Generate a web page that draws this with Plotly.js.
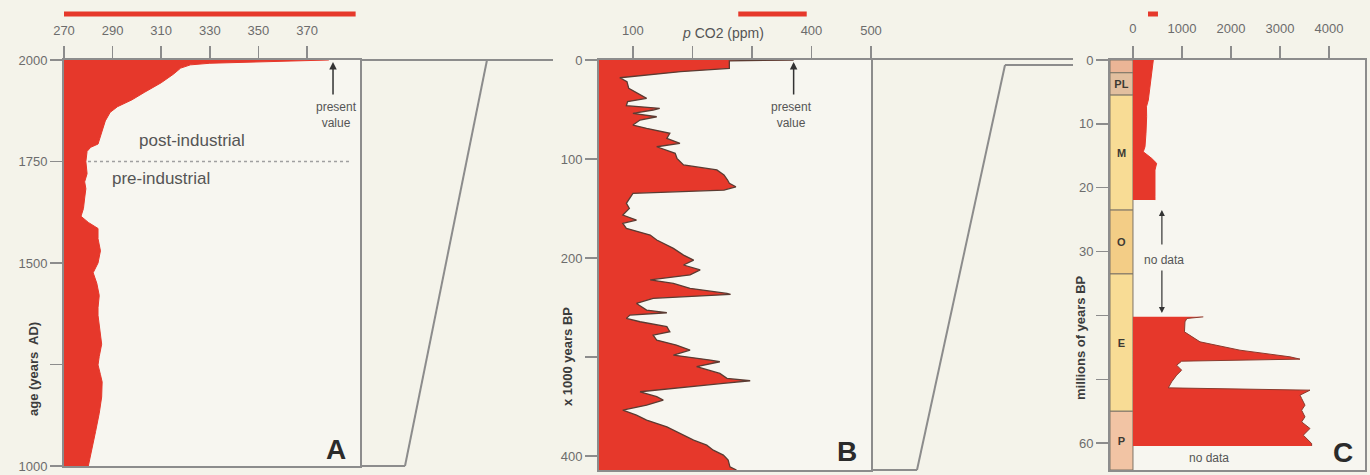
<!DOCTYPE html>
<html><head><meta charset="utf-8">
<script src="https://cdn.plot.ly/plotly-3.0.1.min.js"></script>
<style>html,body{margin:0;padding:0;background:#f4f3ea;} #chart{width:1370px;height:475px;}</style>
</head><body><div id="chart"></div>
<script>
// ---------- Panel A: last 1000 years ----------
const yearsA = [2000,1996,1992,1988,1980,1965,1944,1920,1902,1885,1871,1850,1829,1810,1793,1785,1775,1750,1720,1700,1683,1660,1634,1615,1600,1585,1560,1530,1500,1476,1450,1420,1390,1371,1330,1300,1270,1249,1225,1207,1170,1130,1085,1040,1000];
const co2A   = [379,350,330,322,318,315,310,303,298,292,289,287,286,285,284,281,279.5,279,279.5,278.5,279,278.5,278,277,280,284,284,285,284,282,283.5,284.5,284,284,285,285.5,284.5,284,285,285.7,285.5,284.5,283,281.5,280];

// ---------- Panel B: Vostok, x1000 years BP ----------
const kyrB = [0,0.8,8.4,11.8,17.9,21.9,28.6,35.4,38.7,42.1,46.2,48.8,50.5,53.8,57.3,60.6,65.7,69,74,79.1,84.1,87.6,90.9,94.2,99.3,106,111,116.1,121.2,124.5,128,131.3,134.6,139.7,144.7,149.8,156.6,161.6,164.9,170,176.8,181.8,186.9,190.2,197,202,207,212,217,222,225.6,230.6,235.7,236.7,240.7,245.8,252.5,255.2,257.6,260.9,264.3,269.3,274.4,277.8,282.8,287.9,292.9,298,303,304.7,309.7,316.5,321.5,323.9,326.5,329.9,335,340,343.4,348.5,353.5,358.6,363.6,370.4,377.1,383.9,388.9,394,399,404,410.8,414];
const co2B = [370,262,262,180,78,90,93,112,123,91,89,145,134,100,140,112,100,123,162,157,179,140,157,171,174,185,241,253,259,262,273,253,100,94,89,94,83,106,83,89,129,140,157,168,185,202,185,213,196,129,168,196,258,264,134,106,123,157,95,89,112,157,162,134,140,173,196,168,230,246,207,246,258,297,252,196,112,140,151,123,83,106,123,157,179,202,224,235,252,260,263,274];

// ---------- Panel C: millions of years BP ----------
const myrC1 = [0,1.05,3.65,6.27,7.32,8.88,11.48,13.58,14.37,15.4,16.18,17.23,21.42,21.93];
const co2C1 = [415,400,360,313,275,279,265,245,210,381,483,449,449,449];
const myrC2 = [40.22,40.47,41.0,42.57,44.13,45.44,46.48,46.84,47.16,47.78,48.57,49.35,50.4,51.34,51.7,52.48,53.0,54.05,54.84,55.88,56.67,57.7,58.75,60.05,60.43];
const co2C2 = [1435,1100,1061,1051,1367,2184,3204,3408,993,891,993,891,789,721,3612,3408,3442,3510,3442,3510,3442,3612,3476,3646,3646];

const epochNames = ['', 'PL', 'M', 'O', 'E', 'P'];
const epochTop   = [0, 2, 5.5, 23.5, 33.5, 55];
const epochBase  = [2, 5.5, 23.5, 33.5, 55, 64.2];
const epochColors = ['#ebb596', '#e2bf9f', '#f8dc95', '#f3cd86', '#f8dc95', '#f2c4a4'];

const presentA = 380.7, presentB = 370;
const rangeBarA = [270, 390], rangeBarB = [277, 392], rangeBarC = [306, 510];

// ---------- helpers ----------
const W = 1370, H = 475;
const px = x => x / W;
const py = y => 1 - y / H;
const RED = '#e6382b';
const AX = '#8c8c8c';
const FONT = 'Liberation Sans, Arial, sans-serif';

const traces = [
  {x: co2A, y: yearsA, xaxis: 'x', yaxis: 'y', type: 'scatter', mode: 'lines',
   fill: 'tozerox', fillcolor: RED, line: {color: RED, width: 1}, hoverinfo: 'skip'},
  {x: co2B, y: kyrB, xaxis: 'x2', yaxis: 'y2', type: 'scatter', mode: 'lines',
   fill: 'tozerox', fillcolor: RED, line: {color: '#5b3b32', width: 1.3}, hoverinfo: 'skip'},
  {type: 'bar', orientation: 'h', xaxis: 'x3', yaxis: 'y3',
   y: epochTop.map((t, i) => (t + epochBase[i]) / 2),
   width: epochTop.map((t, i) => epochBase[i] - t),
   x: epochTop.map(() => 469), base: -469,
   marker: {color: epochColors, line: {color: '#7d7466', width: 1}},
   text: epochNames, textposition: 'inside', insidetextanchor: 'middle', constraintext: 'none',
   textfont: {family: FONT, size: 11, color: '#3d3a33', weight: 'bold'}, textangle: 0, hoverinfo: 'skip'},
  {x: co2C1, y: myrC1, xaxis: 'x3', yaxis: 'y3', type: 'scatter', mode: 'lines',
   fill: 'tozerox', fillcolor: RED, line: {color: RED, width: 1}, hoverinfo: 'skip'},
  {x: co2C2, y: myrC2, xaxis: 'x3', yaxis: 'y3', type: 'scatter', mode: 'lines',
   fill: 'tozerox', fillcolor: RED, line: {color: '#8a3b2e', width: 1}, hoverinfo: 'skip'}
];

const tickFont = {family: FONT, size: 13, color: '#6c6c6c'};
const axCommon = {showline: true, mirror: true, linecolor: AX, linewidth: 2, showgrid: false, zeroline: false,
  ticks: 'outside', ticklen: 12, tickcolor: AX, tickwidth: 1.5, tickfont: tickFont, fixedrange: true,
  ticklabeloverflow: 'allow'};
const yDom = [py(470), py(60)];
const yDomA = [py(466), py(60)];

function note(x, y, text, font, extra) {
  return Object.assign({xref: 'paper', yref: 'paper', x: px(x), y: py(y), text: text, showarrow: false,
    xanchor: 'center', yanchor: 'middle', font: Object.assign({family: FONT}, font)}, extra || {});
}

const layout = {
  width: W, height: H, margin: {l: 0, r: 0, t: 0, b: 0},
  paper_bgcolor: '#f4f3ea', plot_bgcolor: '#f7f6f0', showlegend: false,
  font: {family: FONT},
  xaxis: Object.assign({}, axCommon, {domain: [px(64), px(360)], range: [270, 391.8], side: 'top', anchor: 'y',
    tickvals: [270, 290, 310, 330, 350, 370], ticklabelstandoff: 6}),
  yaxis: Object.assign({}, axCommon, {domain: yDomA, range: [1000, 2000], anchor: 'x',
    tickvals: [1000, 1250, 1500, 1750, 2000], ticktext: ['1000', '', '1500', '1750', '2000']}),
  xaxis2: Object.assign({}, axCommon, {domain: [px(599), px(871)], range: [43, 500], side: 'top', anchor: 'y2',
    tickvals: [100, 200, 300, 400, 500], ticktext: ['100', '', '', '400', '500'], ticklabelstandoff: 6}),
  yaxis2: Object.assign({}, axCommon, {domain: yDom, range: [414, 0], anchor: 'x2',
    tickvals: [0, 100, 200, 300, 400], ticktext: ['0', '100', '200', '', '400']}),
  xaxis3: Object.assign({}, axCommon, {domain: [px(1110), px(1365)], range: [-469, 4735], side: 'top', anchor: 'y3',
    tickvals: [0, 1000, 2000, 3000, 4000], ticklabelstandoff: 8}),
  yaxis3: Object.assign({}, axCommon, {domain: yDom, range: [64.2, 0], anchor: 'x3',
    tickvals: [0, 10, 20, 30, 40, 50, 60], ticktext: ['0', '10', '20', '30', '', '', '60']}),
  barmode: 'overlay',
  shapes: [
    {type: 'line', xref: 'x', yref: 'paper', x0: rangeBarA[0], x1: rangeBarA[1], y0: py(14), y1: py(14), line: {color: RED, width: 5}},
    {type: 'line', xref: 'x2', yref: 'paper', x0: rangeBarB[0], x1: rangeBarB[1], y0: py(14), y1: py(14), line: {color: RED, width: 5}},
    {type: 'line', xref: 'x3', yref: 'paper', x0: rangeBarC[0], x1: rangeBarC[1], y0: py(14), y1: py(14), line: {color: RED, width: 5}},
    {type: 'line', xref: 'x', yref: 'y', x0: 270, x1: 388, y0: 1750, y1: 1750, layer: 'below', line: {color: '#a0a0a0', width: 1.5, dash: 'dot'}},
    {type: 'line', xref: 'paper', yref: 'paper', x0: px(360), x1: px(553), y0: py(60), y1: py(60), line: {color: AX, width: 2}},
    {type: 'line', xref: 'paper', yref: 'paper', x0: px(487), x1: px(405), y0: py(60), y1: py(466), line: {color: AX, width: 2}},
    {type: 'line', xref: 'paper', yref: 'paper', x0: px(360), x1: px(405), y0: py(466), y1: py(466), line: {color: AX, width: 2}},
    {type: 'line', xref: 'paper', yref: 'paper', x0: px(871), x1: px(1073), y0: py(59), y1: py(59), line: {color: AX, width: 2}},
    {type: 'line', xref: 'paper', yref: 'paper', x0: px(1005), x1: px(1073), y0: py(65), y1: py(65), line: {color: AX, width: 2}},
    {type: 'line', xref: 'paper', yref: 'paper', x0: px(1005), x1: px(917), y0: py(65), y1: py(470), line: {color: AX, width: 2}},
    {type: 'line', xref: 'paper', yref: 'paper', x0: px(871), x1: px(917), y0: py(470), y1: py(470), line: {color: AX, width: 2}}
  ],
  annotations: [
    note(33, 369, 'age (years  AD)', {size: 13, color: '#3c3c3c', weight: 'bold'}, {textangle: -90}),
    note(567, 357, 'x 1000 years BP', {size: 13, color: '#3c3c3c', weight: 'bold'}, {textangle: -90}),
    note(1080, 338, 'millions of years BP', {size: 13, color: '#3c3c3c', weight: 'bold'}, {textangle: -90}),
    note(192, 140, 'post-industrial', {size: 17, color: '#555'}),
    note(161, 178, 'pre-industrial', {size: 17, color: '#555'}),
    note(336, 115, 'present<br>value', {size: 12, color: '#555'}),
    note(791, 115, 'present<br>value', {size: 12, color: '#555'}),
    note(723, 33, '<i>p</i> CO2 (ppm)', {size: 14, color: '#555'}),
    note(336, 449, '<b>A</b>', {size: 28, color: '#2b2b2b'}),
    note(847, 451, '<b>B</b>', {size: 28, color: '#2b2b2b'}),
    note(1343, 452, '<b>C</b>', {size: 28, color: '#2b2b2b'}),
    note(1164, 260, 'no data', {size: 12, color: '#555'}),
    note(1209, 458, 'no data', {size: 12, color: '#555'}),
    {xref: 'x', yref: 'paper', x: presentA, y: py(62), ax: 0, ay: 34, text: '', showarrow: true,
     arrowhead: 2, arrowsize: 1, arrowwidth: 1.5, arrowcolor: '#333'},
    {xref: 'x2', yref: 'paper', x: presentB, y: py(62), ax: 0, ay: 34, text: '', showarrow: true,
     arrowhead: 2, arrowsize: 1, arrowwidth: 1.5, arrowcolor: '#333'},
    {xref: 'x3', yref: 'y3', x: 590, y: 23.5, ax: 0, ay: 36, text: '', showarrow: true,
     arrowhead: 2, arrowsize: 1, arrowwidth: 1.2, arrowcolor: '#333'},
    {xref: 'x3', yref: 'y3', x: 590, y: 39.6, ax: 0, ay: -44, text: '', showarrow: true,
     arrowhead: 2, arrowsize: 1, arrowwidth: 1.2, arrowcolor: '#333'}
  ]
};

Plotly.newPlot('chart', traces, layout, {displayModeBar: false, staticPlot: true});
</script>
</body></html>
